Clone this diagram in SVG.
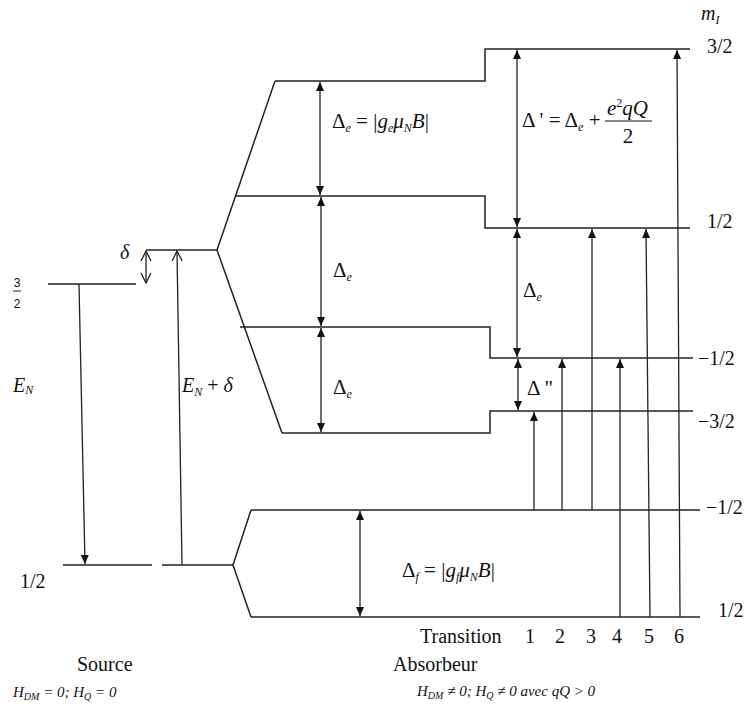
<svg xmlns="http://www.w3.org/2000/svg" width="748" height="709" viewBox="0 0 748 709">
<defs>
<style>
.lv{fill:none;stroke:#222;stroke-width:1.5}
.ar{fill:none;stroke:#222;stroke-width:1.3}
.t{font-family:'Liberation Serif','Times New Roman','DejaVu Serif',serif;font-size:20px;fill:#111}
.m{font-family:'Liberation Serif','Times New Roman','DejaVu Serif',serif;font-size:21px;fill:#111}
.i{font-style:italic}
.sub{font-size:12px;font-style:italic}
.h{font-family:'Liberation Serif','Times New Roman','DejaVu Serif',serif;font-size:15px;font-style:italic;fill:#111}
.fr{font-family:'Liberation Sans',Arial,sans-serif;font-size:12px;fill:#111}
</style>
<marker id="ah" viewBox="0 0 9 8" refX="9" refY="4" markerWidth="9" markerHeight="8" markerUnits="userSpaceOnUse" orient="auto-start-reverse"><path d="M0,0 L9,4 L0,8 z" fill="#111"/></marker>
<marker id="oh" viewBox="0 0 12 12" refX="11" refY="6" markerWidth="12" markerHeight="12" markerUnits="userSpaceOnUse" orient="auto-start-reverse"><path d="M1,1 L11,6 L1,11" fill="none" stroke="#222" stroke-width="1.3"/></marker>
</defs>
<rect width="748" height="709" fill="#fff"/>

<g id="source-levels">
<g id="src-e32"><line class="lv" x1="48" y1="284" x2="136" y2="284"/><text class="fr" x="17" y="287" text-anchor="middle">3</text><line x1="13" y1="291" x2="21" y2="291" stroke="#222" stroke-width="1"/><text class="fr" x="17" y="308" text-anchor="middle">2</text></g>
<g id="src-g12"><line class="lv" x1="63" y1="565" x2="152" y2="565"/><text class="t" x="20" y="588">1/2</text></g>
<g id="src-top"><line class="lv" x1="146" y1="250" x2="217" y2="250"/></g>
<g id="src-bot"><line class="lv" x1="162" y1="565" x2="233" y2="565"/></g>
</g>

<g id="excited-levels">
<g id="exc-fan"><polyline class="lv" points="275,81 217,250 282,433"/></g>
<g id="exc-32"><polyline class="lv" points="275,81 485,81 485,49 690,49"/><text class="t" x="707" y="53">3/2</text></g>
<g id="exc-12"><polyline class="lv" points="235,196 485,196 485,228 690,228"/><text class="t" x="707" y="228">1/2</text></g>
<g id="exc-m12"><polyline class="lv" points="240,327 490,327 490,358 693,358"/><text class="t" x="698" y="365">−1/2</text></g>
<g id="exc-m32"><polyline class="lv" points="282,433 490,433 490,411 693,411"/><text class="t" x="698" y="428">−3/2</text></g>
</g>

<g id="ground-levels">
<g id="gnd-fan"><polyline class="lv" points="251,510 233,565 251,617"/></g>
<g id="gnd-m12"><line class="lv" x1="251" y1="510" x2="700" y2="510"/><text class="t" x="706" y="514">−1/2</text></g>
<g id="gnd-12"><line class="lv" x1="251" y1="617" x2="700" y2="617"/><text class="t" x="718" y="617">1/2</text></g>
</g>

<g id="connectors">
<line class="ar" x1="79" y1="284" x2="85" y2="564" marker-end="url(#ah)"/>
<line class="ar" x1="182" y1="565" x2="177" y2="251" marker-end="url(#oh)"/>
<line class="ar" x1="146" y1="251" x2="146" y2="283" marker-start="url(#oh)" marker-end="url(#oh)"/>
<line class="ar" x1="320" y1="82" x2="320" y2="195" marker-start="url(#ah)" marker-end="url(#ah)"/>
<line class="ar" x1="321" y1="197" x2="321" y2="326" marker-start="url(#ah)" marker-end="url(#ah)"/>
<line class="ar" x1="321" y1="328" x2="321" y2="432" marker-start="url(#ah)" marker-end="url(#ah)"/>
<line class="ar" x1="517" y1="50" x2="517" y2="227" marker-start="url(#ah)" marker-end="url(#ah)"/>
<line class="ar" x1="517" y1="229" x2="517" y2="357" marker-start="url(#ah)" marker-end="url(#ah)"/>
<line class="ar" x1="518" y1="359" x2="518" y2="410" marker-start="url(#ah)" marker-end="url(#ah)"/>
<line class="ar" x1="360" y1="511" x2="360" y2="616" marker-start="url(#ah)" marker-end="url(#ah)"/>
<line class="ar" x1="534" y1="510" x2="534" y2="412" marker-end="url(#ah)"/>
<line class="ar" x1="562" y1="510" x2="562" y2="359" marker-end="url(#ah)"/>
<line class="ar" x1="592" y1="510" x2="592" y2="229" marker-end="url(#ah)"/>
<line class="ar" x1="620" y1="617" x2="620" y2="359" marker-end="url(#ah)"/>
<line class="ar" x1="650" y1="617" x2="646" y2="229" marker-end="url(#ah)"/>
<line class="ar" x1="680" y1="617" x2="677" y2="50" marker-end="url(#ah)"/>
</g>

<g id="labels">
<text class="t i" x="120" y="259">δ</text>
<text class="t i" x="13" y="392">E<tspan class="sub" dy="2">N</tspan></text>
<text class="t" x="182" y="392"><tspan class="i">E</tspan><tspan class="sub" dy="4">N</tspan><tspan dy="-4"> + </tspan><tspan class="i">δ</tspan></text>
<text class="m" x="332" y="128">Δ<tspan class="sub" dy="4">e</tspan><tspan dy="-4"> = |</tspan><tspan class="i">g</tspan><tspan class="sub" dy="4">e</tspan><tspan class="i" dy="-4">μ</tspan><tspan class="sub" dy="4">N</tspan><tspan class="i" dy="-4">B</tspan>|</text>
<text class="m" x="333" y="277">Δ<tspan class="sub" dy="4">e</tspan></text>
<text class="m" x="333" y="394">Δ<tspan class="sub" dy="4">e</tspan></text>
<text class="m" x="522" y="127">Δ ' = Δ<tspan class="sub" dy="4">e</tspan><tspan dy="-4"> +</tspan></text>
<text class="m i" x="607" y="115">e<tspan style="font-size:12px;font-style:normal" dy="-8">2</tspan><tspan dy="8">qQ</tspan></text>
<line x1="605" y1="121" x2="652" y2="121" stroke="#111" stroke-width="1.2"/>
<text class="m" x="628" y="143" text-anchor="middle">2</text>
<text class="m" x="523" y="297">Δ<tspan class="sub" dy="4">e</tspan></text>
<text class="m" x="527" y="395">Δ "</text>
<text class="m" x="402" y="577">Δ<tspan class="sub" dy="4">f</tspan><tspan dy="-4"> = |</tspan><tspan class="i">g</tspan><tspan class="sub" dy="4">f</tspan><tspan class="i" dy="-4">μ</tspan><tspan class="sub" dy="4">N</tspan><tspan class="i" dy="-4">B</tspan>|</text>
<text class="t i" x="701" y="20">m<tspan class="sub" dy="4">I</tspan></text>
<text class="t" x="420" y="643">Transition</text>
<text class="t" x="525" y="643">1</text>
<text class="t" x="555" y="643">2</text>
<text class="t" x="586" y="643">3</text>
<text class="t" x="612" y="643">4</text>
<text class="t" x="644" y="643">5</text>
<text class="t" x="674" y="643">6</text>
<text class="t" x="77" y="671">Source</text>
<text class="t" x="393" y="671">Absorbeur</text>
<text class="h" x="13" y="697">H<tspan style="font-size:10px" dy="3">DM</tspan><tspan dy="-3"> = 0; H</tspan><tspan style="font-size:10px" dy="3">Q</tspan><tspan dy="-3"> = 0</tspan></text>
<text class="h" x="417" y="696">H<tspan style="font-size:10px" dy="3">DM</tspan><tspan dy="-3"> ≠ 0; H</tspan><tspan style="font-size:10px" dy="3">Q</tspan><tspan dy="-3"> ≠ 0 avec qQ &gt; 0</tspan></text>
</g>
</svg>
